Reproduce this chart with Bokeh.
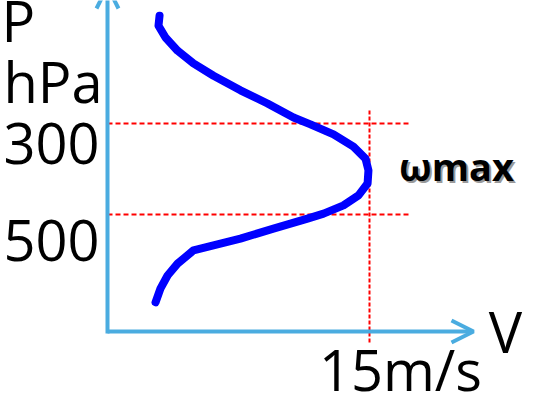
from bokeh.plotting import figure
from bokeh.models import Range1d, Arrow, OpenHead
from bokeh.core.properties import value
from bokeh.embed import file_html
from bokeh.resources import INLINE

# ---- data (wind speed in m/s versus pressure in hPa) ----
speed = [2.98, 2.92, 3.32, 4.01, 4.92, 6.07, 7.61, 9.16, 10.65, 11.62, 12.94,
         14.08, 14.77, 14.94, 14.89, 14.37, 13.51, 12.37, 11.45, 9.50, 7.61,
         4.92, 4.01, 3.44, 3.03, 2.75]
pressure = [63, 85, 111, 140, 168, 195, 227, 256, 287, 302, 324,
            351, 377, 403, 432, 458, 480, 498, 509, 531, 553,
            579, 608, 634, 663, 693]
level_values = [300, 500]
level_labels = ["300", "500"]
vmax_value = 15
vmax_label = "15m/s"
y_title = ["P", "hPa"]
x_title = "V"
peak_label = "ωmax"

# ---- layout helpers (reference pixel -> data) ----
X0 = 107.0
XS = (369.0 - 107.0) / 15.0
Y0 = 123.0
YS = (214.0 - 123.0) / 200.0


def dx(px):
    return (px - X0) / XS


def dy(py):
    return 300.0 + (py - Y0) / YS


W, H = 547, 408
p = figure(width=W, height=H, output_backend="svg", toolbar_location=None,
           x_range=Range1d(dx(0), dx(W)), y_range=Range1d(dy(H), dy(0)),
           min_border=0)
p.axis.visible = False
p.grid.visible = False
p.outline_line_color = None
p.background_fill_color = "white"
p.border_fill_color = "white"

AXIS = "#4AACE0"
RED = "#FF0000"
FONT = "Open Sans"

# red guide lines
x_end = dx(408)
for lv in level_values:
    p.line([0, x_end], [lv, lv], line_color=RED, line_width=2, line_dash="5 3")
p.line([vmax_value, vmax_value], [dy(110), dy(343)], line_color=RED,
       line_width=2, line_dash="4 2")

# axes with arrows
p.add_layout(Arrow(x_start=0, y_start=dy(331), x_end=dx(473), y_end=dy(331),
                   line_color=AXIS, line_width=4,
                   end=OpenHead(size=22, line_color=AXIS, line_width=4)))
p.add_layout(Arrow(x_start=0, y_start=dy(333), x_end=0, y_end=dy(-14),
                   line_color=AXIS, line_width=4,
                   end=OpenHead(size=22, line_color=AXIS, line_width=4)))

# profile curve
p.line(speed, pressure, line_color="#0000FF", line_width=8,
       line_cap="round", line_join="round")


def lab(text, x, base_px, size=56, align="left", style="normal", color="black"):
    # empirical baseline correction for the svg text placement
    y = dy(base_px - 0.39 * size)
    p.text(x=[x], y=[y], text=[text], text_font=value(FONT),
           text_font_size=f"{size}px", text_align=align,
           text_baseline="alphabetic", text_font_style=style, text_color=color)


lab(y_title[0], dx(1), 41)
lab(y_title[1], dx(3), 102)
lab(level_labels[0], dx(3), 165)
lab(level_labels[1], dx(3), 262)
lab(vmax_label, dx(400), 390, align="center")
lab(x_title, dx(505), 352, align="center")
lab(peak_label, dx(458), 182, size=38, align="center", style="bold", color="#9a9a9a")
lab(peak_label, dx(456), 180, size=38, align="center", style="bold")

open("out.html", "w").write(file_html(p, INLINE))
